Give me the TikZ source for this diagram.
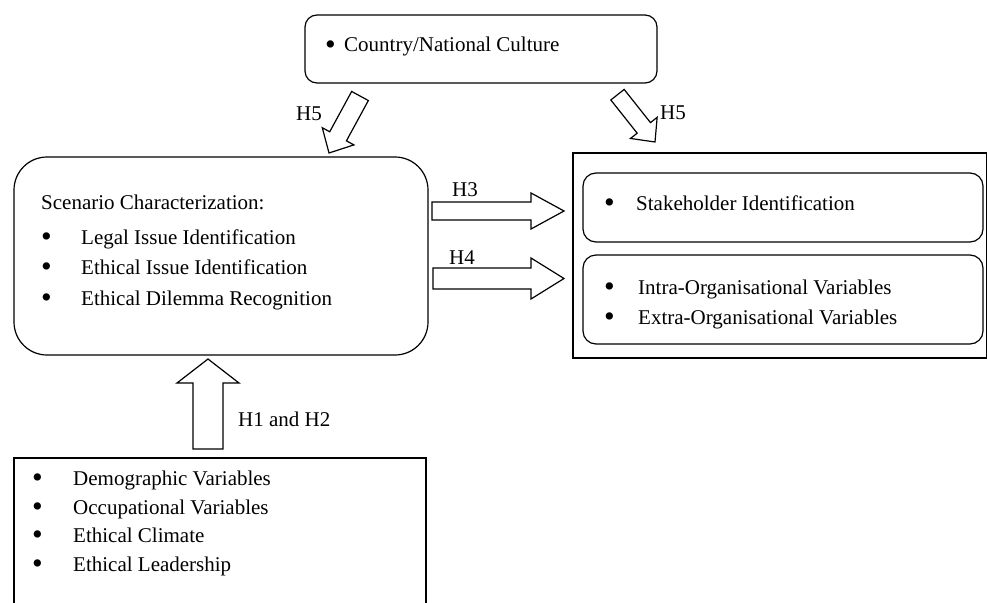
\documentclass[tikz,border=0pt]{standalone}
\usepackage{fontspec}
\setmainfont{Liberation Serif}
\usetikzlibrary{calc}
\newcommand\bul[1]{\makebox[#1pt][l]{\raisebox{-0.12em}{\scalebox{1.45}{\textbullet}}}}
\newcommand\blockarr[5]{%
  \coordinate (hb) at ($(#2)!#5!(#1)$);
  \draw[blockarrow] ($(#1)!#3!90:(#2)$) -- ($(hb)!#3!-90:(#1)$) -- ($(hb)!#4!-90:(#1)$) -- (#2)
     -- ($(hb)!#4!90:(#1)$) -- ($(hb)!#3!90:(#1)$) -- ($(#1)!#3!-90:(#2)$) -- cycle;}
\tikzset{
  rbox/.style={draw, line width=1.2pt, rounded corners=#1, inner sep=0pt, outer sep=0pt},
  sbox/.style={draw, line width=1.2pt, inner sep=0pt, outer sep=0pt},
  txt/.style={inner sep=0pt, anchor=base west, font=\fontsize{21}{25}\selectfont},
  lbl/.style={inner sep=0pt, anchor=base, font=\fontsize{21}{25}\selectfont},
  blockarrow/.style={draw, line width=1.2pt, fill=white, line join=miter}
}
\begin{document}
\begin{tikzpicture}[x=1pt,y=-1pt]
\clip (0,0) rectangle (987,602);
\fill[white] (0,0) rectangle (987,602);
% boxes
\node[rbox=12pt, minimum width=352pt, minimum height=68pt] (culture) at (481,49) {};
\node[rbox=33pt, minimum width=414pt, minimum height=198pt] (scen) at (221,256) {};
\node[sbox, minimum width=414pt, minimum height=205pt] (outer) at (780,255.5) {};
\node[rbox=13pt, minimum width=400pt, minimum height=69pt] (stake) at (783,207.5) {};
\node[rbox=13pt, minimum width=400pt, minimum height=89pt] (org) at (783,299.5) {};
\node[sbox, minimum width=412pt, minimum height=182pt] (factors) at (220,549) {};
% texts
\node[txt] (tc) at (325,52) {\bul{19}Country/National Culture};
\node[txt] (ts0) at (41,209) {Scenario Characterization:};
\node[txt] (ts1) at (41,244) {\bul{40}Legal Issue Identification};
\node[txt] (ts2) at (41,274) {\bul{40}Ethical Issue Identification};
\node[txt] (ts3) at (41,305) {\bul{40}Ethical Dilemma Recognition};
\node[txt] (tk1) at (604,210) {\bul{32}Stakeholder Identification};
\node[txt] (to1) at (604,294) {\bul{34}Intra-Organisational Variables};
\node[txt] (to2) at (604,324) {\bul{34}Extra-Organisational Variables};
\node[txt] (tf1) at (32,485) {\bul{41}Demographic Variables};
\node[txt] (tf2) at (32,514) {\bul{41}Occupational Variables};
\node[txt] (tf3) at (32,542) {\bul{41}Ethical Climate};
\node[txt] (tf4) at (32,571) {\bul{41}Ethical Leadership};
% arrows
\coordinate (h1t) at (208,449); \coordinate (h1h) at (208,359);
\coordinate (h3t) at (432,211); \coordinate (h3h) at (564,211);
\coordinate (h4t) at (433,278.5); \coordinate (h4h) at (564,278.5);
\coordinate (h5at) at (360,96); \coordinate (h5ah) at (329,153);
\coordinate (h5bt) at (617.5,94.7); \coordinate (h5bh) at (655,142);
\blockarr{h1t}{h1h}{15pt}{31pt}{24pt}
\blockarr{h3t}{h3h}{9pt}{18pt}{33pt}
\blockarr{h4t}{h4h}{10.5pt}{20.5pt}{33pt}
\blockarr{h5at}{h5ah}{9.5pt}{18pt}{19pt}
\blockarr{h5bt}{h5bh}{8.5pt}{17pt}{18pt}
% labels
\node[lbl] (l5a) at (309,120) {H5};
\node[lbl] (l5b) at (673,119) {H5};
\node[lbl] (l3) at (465,196) {H3};
\node[lbl] (l4) at (462,264) {H4};
\node[txt] (l12) at (238,426) {H1 and H2};
\end{tikzpicture}
\end{document}
